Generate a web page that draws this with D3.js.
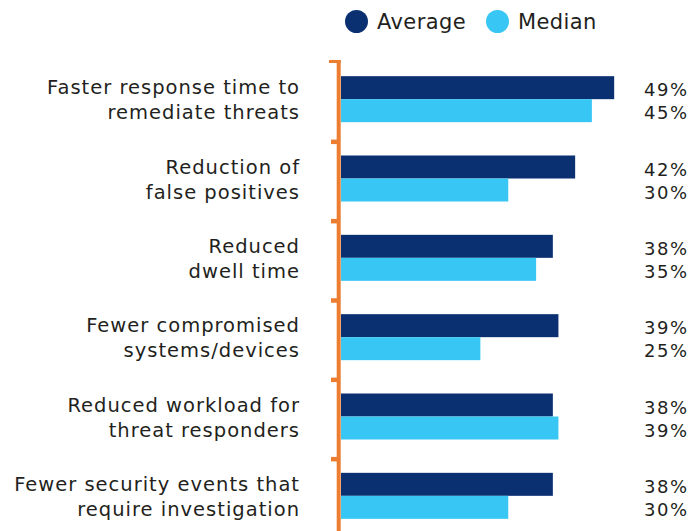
<!DOCTYPE html>
<html><head><meta charset="utf-8">
<script src="https://cdn.jsdelivr.net/npm/d3@7"></script>
<style>
html,body{margin:0;padding:0;background:#fff;}
svg{display:block;}
</style></head>
<body>
<svg id="chart" width="690" height="531"></svg>
<script>
const categories = [
  "Faster response time to\nremediate threats",
  "Reduction of\nfalse positives",
  "Reduced\ndwell time",
  "Fewer compromised\nsystems/devices",
  "Reduced workload for\nthreat responders",
  "Fewer security events that\nrequire investigation"
];
const seriesNames = ["Average", "Median"];
const averageValues = [49, 42, 38, 39, 38, 38];
const medianValues = [45, 30, 35, 25, 39, 30];
const valueLabels = [
  ["49%", "45%"], ["42%", "30%"], ["38%", "35%"],
  ["39%", "25%"], ["38%", "39%"], ["38%", "30%"]
];

const colors = {Average: "#0a3072", Median: "#38c6f4"};
const axisColor = "#ed7d31";
const textColor = "#231f20";
const font = "DejaVu Sans";

const svg = d3.select("#chart");

const x = d3.scaleLinear().domain([0, 50]).range([341, 341 + 5.575 * 50]);
const y = d3.scaleBand().domain(categories).range([59.5, 535.5]).padding(0);
const ySub = d3.scaleBand().domain(seriesNames).range([-23, 23]).padding(0);

const rows = categories.map((c, i) => ({
  cat: c, Average: averageValues[i], Median: medianValues[i], labels: valueLabels[i]
}));

const g = svg.append("g");
rows.forEach((r, i) => {
  const cy = y(r.cat) + y.bandwidth() / 2;
  seriesNames.forEach((s, j) => {
    g.append("rect")
      .attr("x", x(0))
      .attr("y", cy + ySub(s))
      .attr("width", x(r[s]) - x(0))
      .attr("height", ySub.bandwidth())
      .attr("fill", colors[s]);
    g.append("text")
      .attr("x", 688.5)
      .attr("y", cy + ySub(s) + ySub.bandwidth() / 2 + 2)
      .attr("text-anchor", "end")
      .attr("dominant-baseline", "central")
      .attr("font-family", font)
      .attr("font-size", 18)
      .attr("letter-spacing", 1.5)
      .attr("fill", textColor)
      .text(r.labels[j]);
  });
  const lines = r.cat.split("\n");
  const t = g.append("text")
    .attr("text-anchor", "end")
    .attr("font-family", font)
    .attr("font-size", 19.5)
    .attr("letter-spacing", 1)
    .attr("fill", textColor);
  lines.forEach((ln, k) => {
    t.append("tspan")
      .attr("x", 300)
      .attr("y", cy + 1 + (k - (lines.length - 1) / 2) * 25)
      .attr("dominant-baseline", "central")
      .text(ln);
  });
});

const ax = svg.append("g");
ax.append("line")
  .attr("x1", 338.7).attr("x2", 338.7)
  .attr("y1", 60).attr("y2", 531)
  .attr("stroke", axisColor).attr("stroke-width", 4);
ax.append("line")
  .attr("x1", 329).attr("x2", 340.7)
  .attr("y1", 61.5).attr("y2", 61.5)
  .attr("stroke", axisColor).attr("stroke-width", 3);
categories.slice(1).forEach(c => {
  ax.append("line")
    .attr("x1", 331).attr("x2", 338)
    .attr("y1", y(c) + 3).attr("y2", y(c) + 3)
    .attr("stroke", axisColor).attr("stroke-width", 4.5);
});

const legendPos = [{name: "Average", cx: 356.5, tx: 377}, {name: "Median", cx: 497.5, tx: 518}];
const lg = svg.append("g");
legendPos.forEach(p => {
  lg.append("circle").attr("cx", p.cx).attr("cy", 21.5).attr("r", 11.5).attr("fill", colors[p.name]);
  lg.append("text")
    .attr("x", p.tx).attr("y", 29.3)
    .attr("font-family", font).attr("font-size", 21)
    .attr("letter-spacing", 0.4)
    .attr("fill", textColor)
    .text(p.name);
});
</script>
</body></html>
